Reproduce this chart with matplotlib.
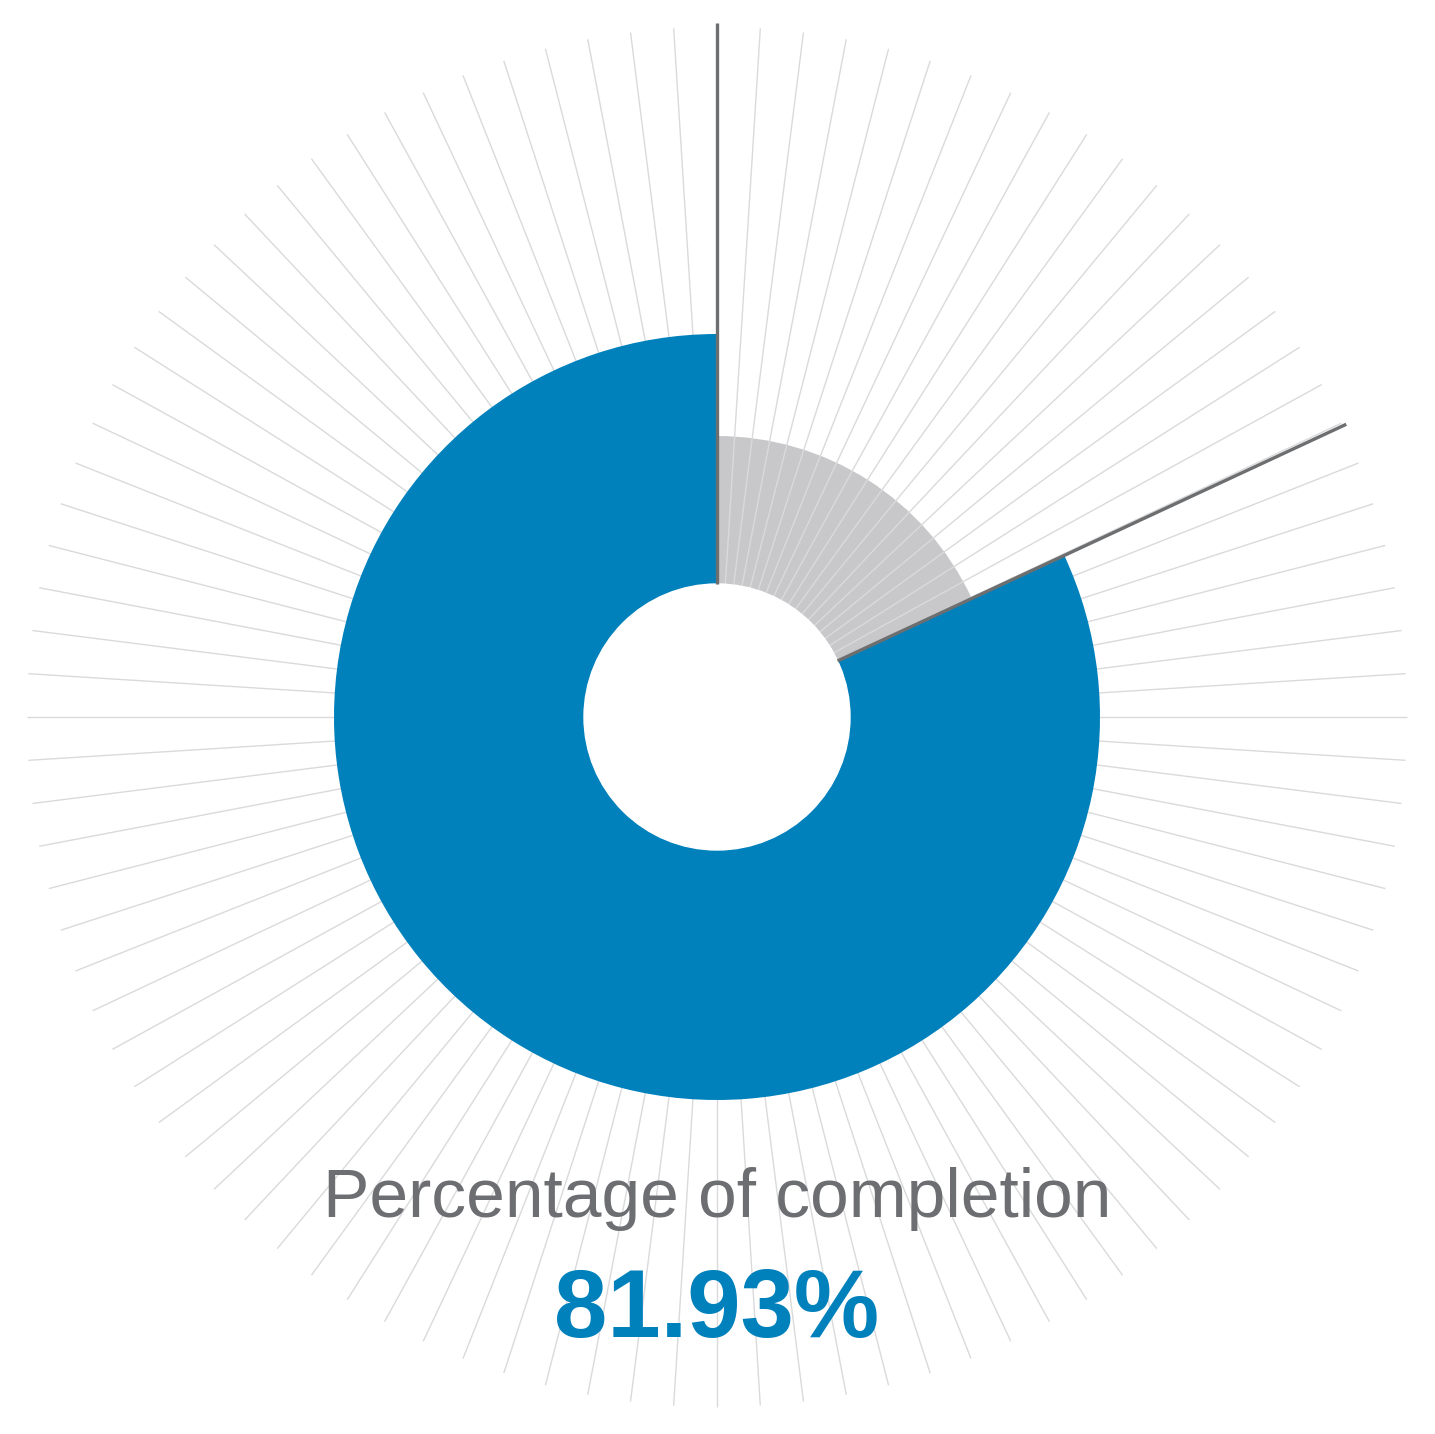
import numpy as np
import matplotlib
matplotlib.use("Agg")
import matplotlib.pyplot as plt
from matplotlib.collections import LineCollection
from matplotlib.patches import Circle

# --- data ---
shares = [81.93, 18.07]            # completed, remaining (%)
share_colors = ["#0081bc", "#c8c8ca"]
caption = "Percentage of completion"
value_text = "81.93%"

# --- geometry (pixels, origin bottom-left) ---
W, H = 1435, 1434
cx, cy = 717, 717
r_outer = 383
r_remaining = 281
r_hole = 133
r_spoke = 690
n_spokes = 100

fig = plt.figure(figsize=(W / 100, H / 100), dpi=100)
ax = fig.add_axes([0, 0, 1, 1])

wedges, _ = ax.pie(shares, colors=share_colors, startangle=90, counterclock=True,
                   radius=r_outer, center=(cx, cy),
                   wedgeprops=dict(linewidth=0))
wedges[0].set_zorder(2)
wedges[1].set_zorder(0)
wedges[1].set_radius(r_remaining)

# light spokes all round (drawn over the grey slice, under the blue one)
ang = np.deg2rad(90 - np.arange(n_spokes) * 360.0 / n_spokes)
segs = [[(cx, cy), (cx + r_spoke * np.cos(a), cy + r_spoke * np.sin(a))] for a in ang]
ax.add_collection(LineCollection(segs, colors="#dadadc", linewidths=1.0, zorder=1))

ax.add_patch(Circle((cx, cy), r_hole, color="white", zorder=3))

# dark boundary spokes at the start and end of the completed share
bounds = np.deg2rad([90, 90 - 360 * shares[1] / 100])
dsegs = [[(cx + r_hole * np.cos(a), cy + r_hole * np.sin(a)),
          (cx + 694 * np.cos(a), cy + 694 * np.sin(a))] for a in bounds]
ax.add_collection(LineCollection(dsegs, colors="#6d6e70", linewidths=2.4, zorder=4))

ax.text(cx, H - 1217, caption, ha="center", va="baseline", fontsize=50,
        color="#6d6e71", family=["Liberation Sans", "DejaVu Sans"], zorder=5)
ax.text(cx, H - 1337, value_text, ha="center", va="baseline", fontsize=69,
        fontweight="bold", color="#0081bc",
        family=["Liberation Sans", "DejaVu Sans"], zorder=5)

ax.set_xlim(0, W)
ax.set_ylim(0, H)
ax.set_aspect("equal")
ax.set_axis_off()

fig.savefig("out.png", dpi=100, facecolor="white")
